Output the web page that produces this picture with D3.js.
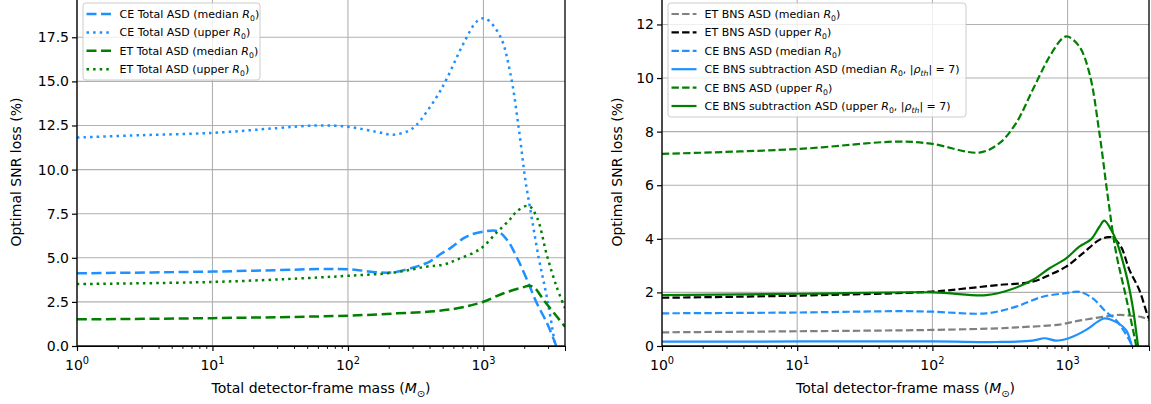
<!DOCTYPE html>
<html>
<head>
<meta charset="utf-8">
<script src="https://cdnjs.cloudflare.com/ajax/libs/d3/7.8.5/d3.min.js"></script>
<style>
body{margin:0;background:#fff;}
svg text{font-family:"DejaVu Sans",sans-serif;fill:#000;}
</style>
</head>
<body>
<script>
// left panel: total ASD, [mass, loss %]
var ceTotalMedian = [[1,4.12],[10,4.22],[30,4.3],[60,4.36],[100,4.35],[205,4.16],[320,4.5],[405,4.8],[480,5.2],[570,5.55],[710,6.1],[800,6.3],[1000,6.48],[1260,6.52],[1500,6.0],[1770,5.0],[2100,3.74],[2480,2.42],[2950,1.29],[3390,0.15],[3600,-0.4]];
var ceTotalUpper = [[1,11.82],[3,11.95],[10,12.08],[30,12.35],[60,12.5],[100,12.43],[160,12.15],[217,11.98],[280,12.2],[320,12.53],[450,14.1],[540,15.2],[713,17.15],[895,18.4],[1030,18.57],[1330,17.55],[1580,15.45],[1815,12.45],[2040,9.4],[2200,7.9],[2560,5.0],[2950,2.7],[3340,0.3],[3500,-0.6]];
var etTotalMedian = [[1,1.51],[10,1.58],[100,1.72],[230,1.85],[405,1.95],[600,2.1],[800,2.3],[1000,2.51],[1410,2.99],[1980,3.34],[2180,3.42],[2400,3.27],[2780,2.61],[3490,1.66],[4000,1.09]];
var etTotalUpper = [[1,3.51],[10,3.63],[50,3.85],[100,3.98],[217,4.16],[380,4.5],[510,4.62],[640,4.9],[946,5.5],[1260,6.45],[1580,7.2],[1770,7.65],[2150,7.94],[2480,7.3],[2950,5.1],[3490,3.3],[4000,2.15]];

// right panel: BNS ASD
var etBnsMedian = [[1,0.51],[10,0.55],[100,0.6],[313,0.66],[440,0.7],[870,0.8],[1160,0.93],[1370,0.99],[1820,1.09],[2420,1.16],[3020,1.12],[3590,1.07],[4000,0.95]];
var etBnsUpper = [[1,1.8],[10,1.88],[100,2.03],[178,2.15],[313,2.28],[550,2.4],[735,2.65],[975,2.96],[1295,3.46],[1720,3.96],[2000,4.06],[2150,4.05],[2480,3.71],[2860,2.85],[3390,2.09],[3900,1.15],[4000,1.02]];
var ceBnsMedian = [[1,1.22],[10,1.25],[60,1.3],[100,1.28],[250,1.22],[416,1.47],[655,1.84],[975,1.97],[1220,2.02],[1535,1.78],[1920,1.28],[2280,0.97],[2860,0.22],[3100,-0.2]];
var ceBnsSubMedian = [[1,0.16],[100,0.17],[300,0.15],[550,0.2],[675,0.29],[820,0.2],[1030,0.3],[1370,0.6],[1670,0.91],[1870,1.03],[2250,0.91],[2700,0.6],[2950,0.1],[3050,-0.2]];
var ceBnsUpper = [[1,7.17],[10,7.35],[57,7.63],[100,7.54],[223,7.22],[313,7.57],[416,8.32],[552,9.56],[735,10.8],[920,11.49],[1000,11.55],[1220,11.18],[1450,10.18],[1720,7.94],[1980,5.6],[2280,3.5],[2700,1.84],[3120,0.35],[3300,-0.3]];
var ceBnsSubUpper = [[1,1.9],[10,1.95],[100,2.0],[250,1.9],[370,2.09],[550,2.46],[735,2.9],[975,3.27],[1220,3.71],[1490,3.98],[1720,4.45],[1870,4.68],[2100,4.33],[2280,3.96],[2700,2.71],[3030,1.47],[3300,0.1],[3400,-0.3]];

var xMajor = [1, 10, 100, 1000];
var leftYTicks = [0, 2.5, 5, 7.5, 10, 12.5, 15, 17.5];
var rightYTicks = [0, 2, 4, 6, 8, 10, 12];

var R0 = [{t:"R", it:1}, {t:"0", sub:1}];
var RHO = [{t:"|"}, {t:"ρ", it:1}, {t:"th", it:1, sub:1}, {t:"| = 7)"}];

var BLUE = "#1e90ff", GREEN = "#008000", GREY = "#808080";

var width = 1151, height = 404;
var svg = d3.select("body").append("svg")
		.attr("width", width)
		.attr("height", height);

function rich(text, parts, size){
	var shift = 0;
	parts.forEach(function(p){
		if (typeof p === "string") p = {t:p};
		var want = p.sub ? size*0.28 : (p.sup ? -size*0.42 : 0);
		var ts = text.append("tspan").text(p.t).attr("dy", want - shift);
		shift = want;
		if (p.it) ts.style("font-style", "italic");
		if (p.sub || p.sup) ts.style("font-size", (size*0.7) + "px");
	});
}

function panel(opt){
	var x = d3.scaleLog().domain([1, 4000]).range([opt.x0, opt.x1]);
	var y = d3.scaleLinear().domain([0, opt.ymax]).range([346, -1]);
	var g = svg.append("g");
	var id = "clip" + opt.x0;

	svg.append("clipPath").attr("id", id)
		.append("rect")
			.attr("x", opt.x0).attr("y", -1)
			.attr("width", opt.x1 - opt.x0).attr("height", 347);

	// grid
	g.append("g").selectAll("line").data(xMajor).enter().append("line")
			.attr("x1", x).attr("x2", x)
			.attr("y1", y(0)).attr("y2", y(opt.ymax))
			.style("stroke", "#b0b0b0").style("stroke-width", 1.1);
	g.append("g").selectAll("line").data(opt.yTicks).enter().append("line")
			.attr("x1", opt.x0).attr("x2", opt.x1)
			.attr("y1", y).attr("y2", y)
			.style("stroke", "#b0b0b0").style("stroke-width", 1.1);

	var line = d3.line()
			.x(function(d){ return x(d[0]); })
			.y(function(d){ return y(d[1]); })
			.curve(d3.curveCatmullRom.alpha(0.5));

	var lines = g.append("g").attr("clip-path", "url(#" + id + ")");
	opt.series.forEach(function(s){
		lines.append("path")
				.attr("d", line(s.data))
				.style("fill", "none")
				.style("stroke", s.color)
				.style("stroke-width", s.w)
				.style("stroke-dasharray", s.dash || null);
	});

	// axes
	var minor = [];
	xMajor.forEach(function(d){
		for (var k = 2; k <= 9; k++) if (d*k <= 4000) minor.push(d*k);
	});
	var ax = g.append("g").attr("transform", "translate(0,346)")
			.call(d3.axisBottom(x).tickValues(minor).tickSize(2.8).tickFormat(""));
	ax.select(".domain").remove();
	ax.selectAll("line").style("stroke-width", 1);
	var ax2 = g.append("g").attr("transform", "translate(0,346)")
			.call(d3.axisBottom(x).tickValues(xMajor).tickSize(5).tickFormat(""));
	ax2.selectAll("line").style("stroke-width", 1.2);

	xMajor.forEach(function(d, i){
		var t = g.append("text")
				.attr("x", x(d)).attr("y", 370)
				.attr("text-anchor", "middle")
				.style("font-size", "14px");
		rich(t, ["10", {t:String(i), sup:1}], 14);
	});

	var ay = g.append("g").attr("transform", "translate(" + opt.x0 + ",0)")
			.call(d3.axisLeft(y).tickValues(opt.yTicks).tickSize(5).tickPadding(3).tickFormat(d3.format(opt.fmt)));
	ay.selectAll("text").style("font-size", "14px").style("font-family", "DejaVu Sans");
	ay.selectAll("line").style("stroke-width", 1.2);
	ay.select(".domain").remove();

	// spines
	g.append("rect")
			.attr("x", opt.x0).attr("y", -1)
			.attr("width", opt.x1 - opt.x0).attr("height", 347)
			.style("fill", "none").style("stroke", "#000").style("stroke-width", 1.3);

	var xl = g.append("text")
			.attr("x", (opt.x0 + opt.x1) / 2).attr("y", 393)
			.attr("text-anchor", "middle")
			.style("font-size", "14px");
	rich(xl, ["Total detector-frame mass (", {t:"M", it:1}, {t:"⊙", sub:1}, ")"], 14);

	g.append("text")
			.attr("transform", "translate(" + opt.labelX + ",172) rotate(-90)")
			.attr("text-anchor", "middle")
			.attr("dy", "0.35em")
			.style("font-size", "14px")
			.text("Optimal SNR loss (%)");

	// legend
	var lg = g.append("g");
	lg.append("rect")
			.attr("x", opt.leg[0]).attr("y", 3)
			.attr("width", opt.leg[1] - opt.leg[0]).attr("height", opt.leg[2] - 3)
			.attr("rx", 3)
			.style("fill", "#fff").style("fill-opacity", 0.8)
			.style("stroke", "#cccccc").style("stroke-width", 1);
	opt.series.forEach(function(s, i){
		var cy = 14 + i * 18.4;
		lg.append("line")
				.attr("x1", opt.leg[0] + 3.5).attr("x2", opt.leg[0] + 28.5)
				.attr("y1", cy).attr("y2", cy)
				.style("stroke", s.color)
				.style("stroke-width", s.w)
				.style("stroke-dasharray", s.dash || null);
		var t = lg.append("text")
				.attr("x", opt.leg[0] + 36.5).attr("y", cy + 4)
				.style("font-size", "11px");
		rich(t, s.label, 11);
	});
}

panel({
	x0: 77, x1: 565, ymax: 19.67, yTicks: leftYTicks, fmt: ".1f", labelX: 16,
	leg: [83, 260, 80],
	series: [
		{data: ceTotalMedian, color: BLUE, w: 2.5, dash: "10,4.5", label: ["CE Total ASD (median "].concat(R0, [")"])},
		{data: ceTotalUpper, color: BLUE, w: 2.5, dash: "2.5,4.1", label: ["CE Total ASD (upper "].concat(R0, [")"])},
		{data: etTotalMedian, color: GREEN, w: 2.5, dash: "10,4.5", label: ["ET Total ASD (median "].concat(R0, [")"])},
		{data: etTotalUpper, color: GREEN, w: 2.5, dash: "2.5,4.1", label: ["ET Total ASD (upper "].concat(R0, [")"])}
	]
});

panel({
	x0: 662, x1: 1149, ymax: 12.95, yTicks: rightYTicks, fmt: "d", labelX: 617,
	leg: [668, 966, 117],
	series: [
		{data: etBnsMedian, color: GREY, w: 2.2, dash: "7.4,3.2", label: ["ET BNS ASD (median "].concat(R0, [")"])},
		{data: etBnsUpper, color: "#000", w: 2.2, dash: "7.4,3.2", label: ["ET BNS ASD (upper "].concat(R0, [")"])},
		{data: ceBnsMedian, color: BLUE, w: 2.2, dash: "7.4,3.2", label: ["CE BNS ASD (median "].concat(R0, [")"])},
		{data: ceBnsSubMedian, color: BLUE, w: 2.2, label: ["CE BNS subtraction ASD (median "].concat(R0, [", "], RHO)},
		{data: ceBnsUpper, color: GREEN, w: 2.2, dash: "7.4,3.2", label: ["CE BNS ASD (upper "].concat(R0, [")"])},
		{data: ceBnsSubUpper, color: GREEN, w: 2.2, label: ["CE BNS subtraction ASD (upper "].concat(R0, [", "], RHO)}
	]
});
</script>
</body>
</html>
